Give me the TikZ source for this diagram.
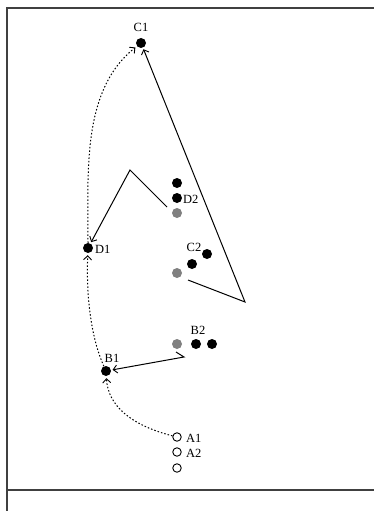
\documentclass[tikz,border=0pt]{standalone}
\usepackage{fontspec}
\setmainfont{Liberation Serif}
\usetikzlibrary{arrows.meta}
\begin{document}
\begin{tikzpicture}[x=1pt,y=-1pt,
  dot/.style={circle,fill=black,inner sep=0pt,minimum size=10pt},
  gdot/.style={circle,fill=black!50,inner sep=0pt,minimum size=10pt},
  odot/.style={circle,draw=black,line width=0.9pt,fill=white,inner sep=0pt,minimum size=8.5pt},
  lbl/.style={font=\fontsize{12.5}{12.5}\selectfont,inner sep=0pt},
  frameline/.style={line width=1.6pt,draw=black!75},
  dotline/.style={dash pattern=on 1.5pt off 2pt,line width=1pt,shorten >=2pt,-{Straight Barb[length=4pt,width=8pt,line width=0.9pt]}},
  solidline/.style={line width=1pt,shorten >=1.5pt,-{Straight Barb[length=4pt,width=8pt,line width=0.9pt]}}]
\useasboundingbox (0,0) rectangle (374,511);
% frame
\coordinate (ftl) at (7,8);
\coordinate (ftr) at (374,8);
\coordinate (fbl) at (7,511);
\coordinate (fml) at (7,490);
\coordinate (fmr) at (374,490);
\draw[frameline] (ftr) -- (ftl) -- (fbl);
\draw[frameline] (fml) -- (fmr);
% nodes
\node[dot] (C1) at (141,43) {};
\node[lbl,anchor=south] (C1l) at (141,32) {C1};
\node[dot] (D2a) at (177,183) {};
\node[dot] (D2b) at (177,198) {};
\node[gdot] (D2c) at (177,213) {};
\node[lbl,anchor=west] (D2l) at (183,199) {D2};
\node[dot] (D1) at (88,248) {};
\node[lbl,anchor=west] (D1l) at (95,249) {D1};
\node[lbl,anchor=south] (C2l) at (194,252) {C2};
\node[dot] (C2a) at (207,254) {};
\node[dot] (C2b) at (192,264) {};
\node[gdot] (C2c) at (177,273) {};
\node[lbl,anchor=south] (B2l) at (198,335) {B2};
\node[gdot] (B2a) at (177,344) {};
\node[dot] (B2b) at (196,344) {};
\node[dot] (B2c) at (212,344) {};
\node[dot] (B1) at (106,371) {};
\node[lbl,anchor=south] (B1l) at (112,363) {B1};
\node[odot] (A1) at (177,437) {};
\node[lbl,anchor=west] (A1l) at (186,438) {A1};
\node[odot] (A2) at (177,452) {};
\node[lbl,anchor=west] (A2l) at (186,453) {A2};
\node[odot] (A3) at (177,468) {};
% dotted connectors
\draw[dotline] (A1) .. controls (130,425) and (108,405) .. (B1);
\draw[dotline] (B1) .. controls (92,340) and (86,300) .. (D1);
\draw[dotline] (D1) .. controls (88,170) and (82,90) .. (C1);
% solid connectors
\coordinate (k1) at (176,352);
\coordinate (k2) at (184,357);
\draw[solidline] (k1) -- (k2) -- (B1);
\coordinate (p1) at (167,207);
\coordinate (p2) at (130,170);
\draw[solidline] (p1) -- (p2) -- (D1);
\coordinate (q1) at (188,280);
\coordinate (q2) at (245,302);
\draw[solidline] (q1) -- (q2) -- (C1);
\end{tikzpicture}
\end{document}
